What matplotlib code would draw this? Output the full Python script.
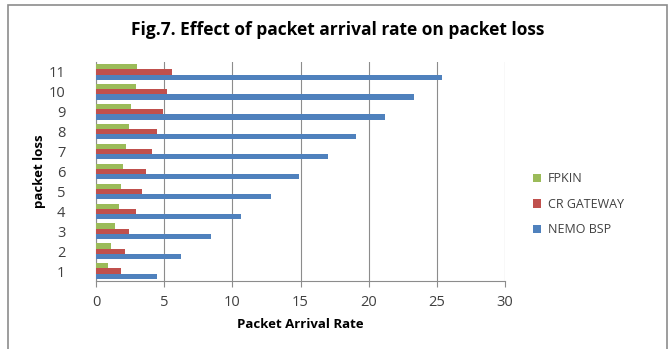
import matplotlib
matplotlib.use('Agg')
import matplotlib.pyplot as plt
import matplotlib.patches as mpatches
import numpy as np

# data
categories = ['1', '2', '3', '4', '5', '6', '7', '8', '9', '10', '11']
nemo_bsp = [4.5, 6.2, 8.4, 10.6, 12.8, 14.9, 17.0, 19.1, 21.2, 23.3, 25.4]
cr_gateway = [1.8, 2.1, 2.4, 2.9, 3.4, 3.7, 4.1, 4.5, 4.9, 5.2, 5.6]
fpkin = [0.9, 1.1, 1.4, 1.7, 1.8, 2.0, 2.2, 2.4, 2.6, 2.9, 3.0]
x_ticks = [0, 5, 10, 15, 20, 25, 30]

plt.rcParams['font.family'] = ['Open Sans', 'DejaVu Sans']

fig = plt.figure(figsize=(6.7, 3.49), dpi=100)
ax = fig.add_axes([96/670, 1-281/349, (505-96)/670, (281-62)/349])

# chart border
fig.patches.append(mpatches.Rectangle((8/670, -0.05), (667-8)/670, 1.05-5/349,
                                      transform=fig.transFigure, fill=False,
                                      edgecolor='#8c8c8c', linewidth=1.2))

y = np.arange(len(categories))
h = 0.26
ax.barh(y - h, nemo_bsp, height=h, color='#4F81BD', label='NEMO BSP', zorder=3)
ax.barh(y, cr_gateway, height=h, color='#C0504D', label='CR GATEWAY', zorder=3)
ax.barh(y + h, fpkin, height=h, color='#9BBB59', label='FPKIN', zorder=3)

ax.set_xlim(0, 30)
ax.set_ylim(-0.5, len(categories) - 0.5)
ax.set_xticks(x_ticks)
ax.set_yticks(y)
ax.set_yticklabels(categories)
ax.grid(axis='x', color='#8c8c8c', linewidth=0.8, zorder=0)

for s in ['top', 'right']:
    ax.spines[s].set_visible(False)
ax.spines['left'].set_color('#8c8c8c')
ax.spines['bottom'].set_color('#8c8c8c')
ax.tick_params(axis='x', length=4, color='#8c8c8c', labelsize=10.5, labelcolor='#404040', pad=6)
ax.tick_params(axis='y', length=0, labelsize=10.5, labelcolor='#404040', pad=22)

ax.set_xlabel('Packet Arrival Rate', fontsize=9.5, fontweight='bold', labelpad=6)
ax.set_ylabel('packet loss', fontsize=9.5, fontweight='bold', labelpad=2)

fig.text(338/670, 1-30/349, 'Fig.7. Effect of packet arrival rate on packet loss',
         ha='center', va='center', fontsize=12.5, fontweight='bold')

handles, labels = ax.get_legend_handles_labels()
ax.legend(handles[::-1], labels[::-1], loc='center left', bbox_to_anchor=(1.04, 0.35),
          frameon=False, fontsize=9, handlelength=0.7, handleheight=0.7,
          labelspacing=1.0, handletextpad=0.5, labelcolor='#404040')

fig.savefig('out.png', dpi=100)
